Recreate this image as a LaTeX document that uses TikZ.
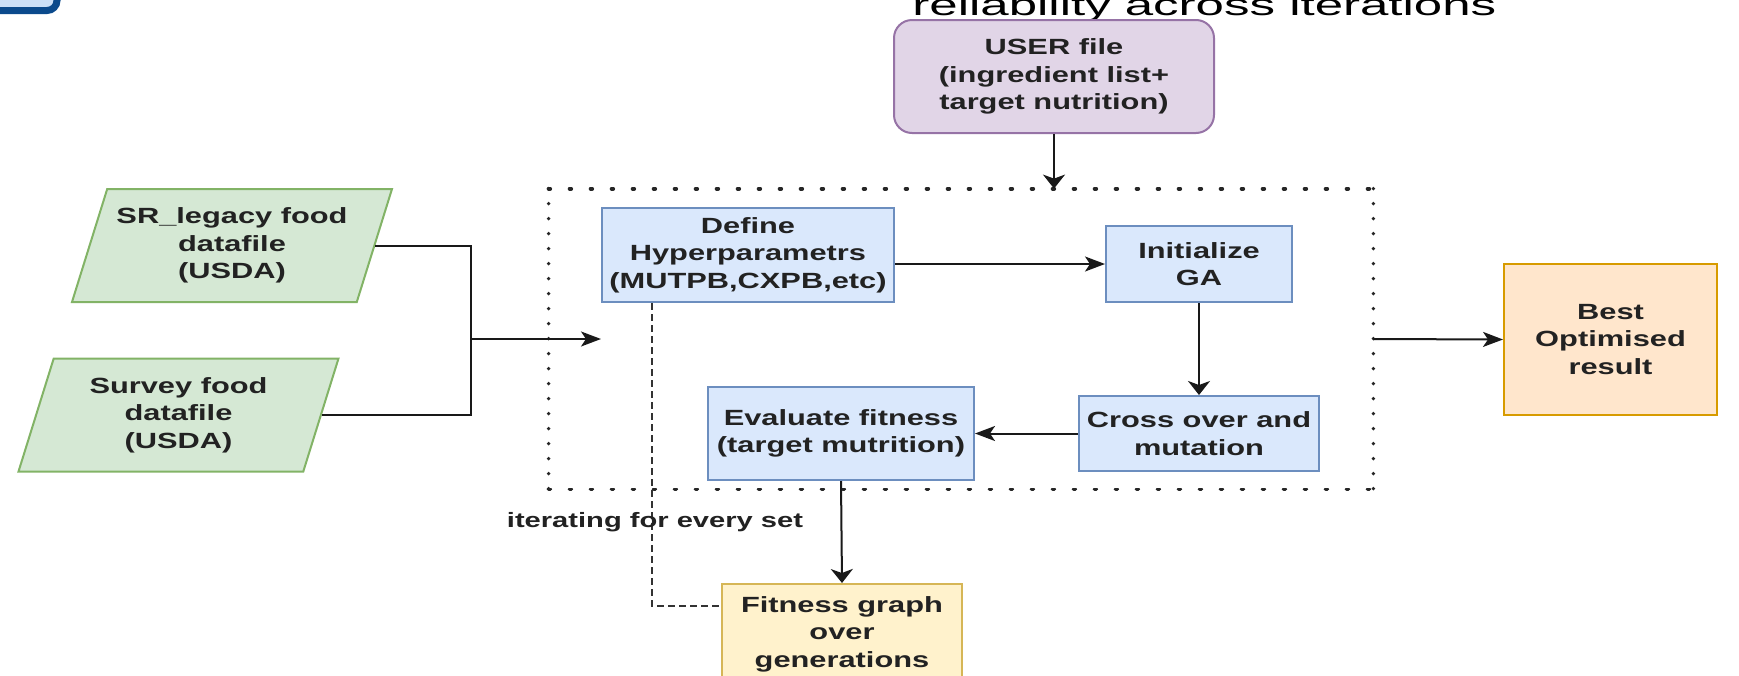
\documentclass[tikz,border=0pt]{standalone}
\usepackage{fontspec}
\setmainfont{Liberation Sans}[FakeStretch=1.4]
\newfontfamily\titlefont{Liberation Sans}[FakeStretch=1.7]
\usepackage{tikz}
\usepackage{xcolor}
\usetikzlibrary{shapes.geometric,arrows.meta,calc}
\definecolor{greenfill}{HTML}{D5E8D4}
\definecolor{greenline}{HTML}{82B366}
\definecolor{bluefill}{HTML}{DAE8FC}
\definecolor{blueline}{HTML}{6C8EBF}
\definecolor{purplefill}{HTML}{E1D5E7}
\definecolor{purpleline}{HTML}{9673A6}
\definecolor{orangefill}{HTML}{FFE6CC}
\definecolor{orangeline}{HTML}{D79B00}
\definecolor{yellowfill}{HTML}{FFF2CC}
\definecolor{yellowline}{HTML}{D6B656}
\definecolor{darktext}{HTML}{222222}
\definecolor{slideblue}{HTML}{0B4A8C}
\definecolor{slidefill}{HTML}{CCE0F7}
\newcommand{\blockfont}{\fontsize{11}{13.75}\selectfont\bfseries}
\newcommand{\notefont}{\fontsize{10.4}{12}\selectfont\bfseries}
\tikzstyle{block}=[draw=blueline,fill=bluefill,line width=1pt,align=center,text=darktext,font=\blockfont,inner sep=0pt]
\tikzstyle{datafile}=[trapezium,trapezium left angle=65,trapezium right angle=115,trapezium stretches body,draw=greenline,fill=greenfill,line width=1pt,align=center,text=darktext,font=\blockfont,inner sep=0pt,minimum width=160pt,minimum height=56.5pt]
\tikzstyle{link}=[line width=1pt,draw=black!90]
\tikzstyle{harrow}=[link,-{Stealth[length=10pt,width=7.5pt,inset=2.5pt]}]
\tikzstyle{varrow}=[link,-{Stealth[length=7pt,width=11pt,inset=2pt]}]
\tikzstyle{gadots}=[line width=1.9pt,line cap=round,draw=black!85]
\tikzstyle{feedback}=[line width=0.75pt,draw=black!80,dash pattern=on 3.5pt off 2pt]

\begin{document}
\begin{tikzpicture}[x=0.5pt,y=-0.5pt]
		\useasboundingbox (0,0) rectangle (1739,675);
		\clip (0,0) rectangle (1739,675);
		% leftovers of the slide
		\draw[slideblue,fill=slidefill,line width=3.5pt,rounded corners=5pt] (-60,-60) rectangle (57,10.5);
		\node[anchor=base west,inner sep=0pt,font={\titlefont\fontsize{15}{18}\selectfont}] (title) at (912,15) {reliability across iterations};
		
		% inputs
		\node[datafile] (srlegacy) at (232,245.5) {SR\_legacy food\\datafile\\(USDA)};
		\node[datafile] (survey) at (178.5,415) {Survey food\\datafile\\(USDA)};
		\node[block,draw=purpleline,fill=purplefill,rounded corners=9pt,minimum width=160pt,minimum height=56.5pt] (userfile) at (1054,76.5) {USER file\\(ingredient list+\\target nutrition)};
		
		% GA loop
		\node[minimum width=412pt,minimum height=150pt,inner sep=0pt] (ga) at (961,339) {};
		\draw[gadots,dash pattern=on 0.8pt off 9.7pt] (ga.north west) -- (ga.north east);
		\draw[gadots,dash pattern=on 0.8pt off 9.7pt] (ga.south west) -- (ga.south east);
		\draw[gadots,dash pattern=on 0pt off 7.5pt] (ga.north west) -- (ga.south west);
		\draw[gadots,dash pattern=on 0pt off 7.5pt] (ga.north east) -- (ga.south east);
		
		\node[block,minimum width=146pt,minimum height=47pt] (define) at (748,255) {Define\\Hyperparametrs\\(MUTPB,CXPB,etc)};
		\node[block,minimum width=93pt,minimum height=38pt] (init) at (1199,264) {Initialize\\GA};
		\node[block,minimum width=120pt,minimum height=37.5pt] (cross) at (1199,433.5) {Cross over and\\mutation};
		\node[block,minimum width=133pt,minimum height=46.5pt] (evaluate) at (841,433.5) {Evaluate fitness\\(target mutrition)};
		
		% outputs
		\node[block,draw=orangeline,fill=orangefill,minimum width=106.5pt,minimum height=75.5pt] (best) at (1610.5,339.5) {Best\\Optimised\\result};
		\node[block,draw=yellowline,fill=yellowfill,minimum width=120pt,minimum height=50pt] (fitness) at (842,634) {Fitness graph\\over\\generations};
		
		\coordinate (merge) at (471,339);
		\draw[link] (srlegacy.east) -| (merge);
		\draw[link] (survey.east) -| (merge);
		\draw[harrow] (merge) -- (define.west |- ga.center);
		\draw[varrow] (userfile.south) -- (userfile.south |- ga.north);
		\draw[harrow] (define.east |- init.west) -- (init.west);
		\draw[varrow] (init.south) -- (cross.north);
		\draw[harrow] (cross.west) -- (evaluate.east);
		\draw[varrow] (evaluate.south) -- (fitness.north);
		\draw[harrow] (ga.east) -- (best.west);
		
		\draw[feedback] ($(define.south west)+(51,0)$) |- ($(fitness.north west)+(0,23)$);
		\node[font=\notefont,text=darktext,inner sep=0pt] (iterlabel) at (655,522) {iterating for every set};
		% \node[font=\notefont] at (655,560) {};
	\end{tikzpicture}
\end{document}
